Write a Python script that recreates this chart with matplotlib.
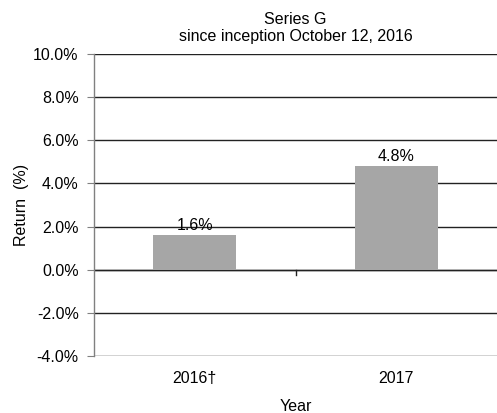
import matplotlib
matplotlib.use("Agg")
import matplotlib.pyplot as plt
from matplotlib.ticker import FuncFormatter

plt.rcParams['font.family'] = ['Liberation Sans', 'DejaVu Sans']

categories = ["2016\u2020", "2017"]
returns = [1.6, 4.8]
labels = ["1.6%", "4.8%"]
yticks = [-4, -2, 0, 2, 4, 6, 8, 10]

FS = 11.5

fig = plt.figure(figsize=(4.97, 4.13), dpi=100)
ax = fig.add_axes([94/497, 1 - 356/413, (497 - 94)/497, (356 - 54)/413])

x = list(range(len(categories)))
ax.bar(x, returns, width=0.41, color="#a6a6a6", zorder=3)
for xi, v, lab in zip(x, returns, labels):
    ax.text(xi, v + 0.1, lab, ha="center", va="bottom", fontsize=FS, zorder=4)

ax.set_xlim(-0.5, 1.5)
ax.set_ylim(-4, 10)
ax.set_yticks(yticks)
ax.yaxis.set_major_formatter(FuncFormatter(lambda v, p: f"{v:.1f}%"))
ax.tick_params(axis="y", labelsize=FS, length=5, width=0.8, color="#808080", pad=6)
ax.yaxis.grid(True, color="#222222", linewidth=1.0, zorder=1)
ax.set_axisbelow(True)

ax.set_xticks(x)
ax.set_xticklabels(categories, fontsize=FS)
ax.tick_params(axis="x", length=0, pad=11)

# x axis line at zero with middle tick
ax.axhline(0, color="#222222", linewidth=1.0, zorder=2)
ax.plot([0.5, 0.5], [0, -0.25], color="#222222", linewidth=1.0, clip_on=False, zorder=2)

for s in ["top", "right", "bottom"]:
    ax.spines[s].set_visible(False)
ax.spines["left"].set_color("#808080")
ax.spines["left"].set_linewidth(1.0)

ax.set_ylabel("Return  (%)", fontsize=FS, labelpad=3)
ax.set_xlabel("Year", fontsize=FS, labelpad=9)
ax.set_title("Series G\nsince inception October 12, 2016", fontsize=FS, pad=9, linespacing=1.25)

fig.savefig("out.png", dpi=100)
